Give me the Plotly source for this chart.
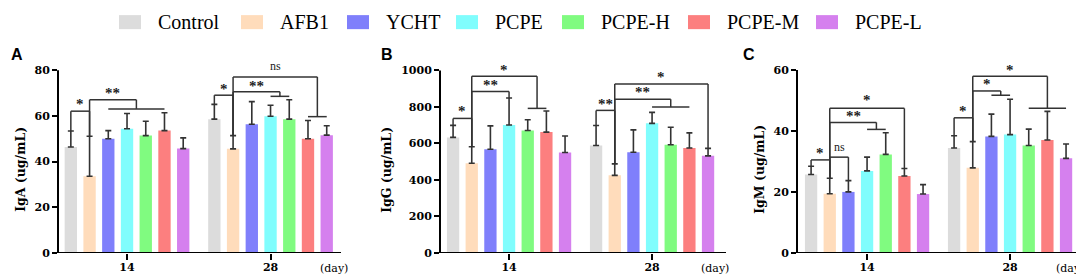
import plotly.graph_objects as go

W, H = 1084, 276

groups = ["14", "28"]
series = ["Control", "AFB1", "YCHT", "PCPE", "PCPE-H", "PCPE-M", "PCPE-L"]
colors = ["#dcdcdc", "#ffdcbb", "#7f7ffb", "#80fdfd", "#80fb80", "#fc7f7f", "#d580ee"]

# ---- IgA (ug/mL) ----
iga_d14 = [46.4, 33.6, 50.0, 54.4, 51.4, 53.6, 45.7]
iga_d14_sd = [7.0, 17.5, 3.6, 6.7, 6.3, 7.8, 4.7]
iga_d28 = [58.6, 45.6, 56.4, 59.9, 58.6, 50.0, 51.6]
iga_d28_sd = [6.5, 5.8, 9.9, 4.8, 8.5, 8.0, 4.1]

# ---- IgG (ug/mL) ----
igg_d14 = [633, 491, 568, 701, 671, 662, 550]
igg_d14_sd = [66, 91, 128, 148, 59, 116, 91]
igg_d28 = [589, 425, 552, 710, 593, 575, 532]
igg_d28_sd = [109, 63, 122, 60, 96, 83, 41]

# ---- IgM (ug/mL) ----
igm_d14 = [25.7, 19.4, 20.0, 26.9, 32.3, 25.2, 19.3]
igm_d14_sd = [2.7, 5.1, 3.7, 4.5, 7.1, 2.5, 3.1]
igm_d28 = [34.4, 27.9, 38.2, 38.8, 35.2, 37.0, 31.0]
igm_d28_sd = [4.0, 8.6, 7.3, 11.6, 5.4, 9.4, 4.7]

iga_ticks = [0, 20, 40, 60, 80]
igg_ticks = [0, 200, 400, 600, 800, 1000]
igm_ticks = [0, 20, 40, 60]

# significance brackets: (group, left bar, right bar or (first, last, level), level, label, label level)
iga_sig = [
    (0, 0, 1, 62.1, "*", 66.9),
    (0, 1, (2, 5, 63.1), 67.1, "**", 71.9),
    (1, 0, 1, 69.1, "*", 73.7),
    (1, 1, (3, 4, 68.6), 70.6, "**", 75.1),
    (1, 1, (5, 6, 59.7), 77.1, "ns", 81.9),
]
igg_sig = [
    (0, 0, 1, 737, "*", 797),
    (0, 1, 3, 884, "**", 943),
    (0, 1, (4, 5, 792), 968, "*", 1023),
    (1, 0, 1, 781, "**", 840),
    (1, 1, (3, 5, 799), 842, "**", 902),
    (1, 1, 6, 925, "*", 984),
]
igm_sig = [
    (0, 0, 1, 30.5, "*", 34.1),
    (0, 1, 2, 31.4, "ns", 34.8),
    (0, 1, (3, 4, 40.5), 42.8, "**", 46.2),
    (0, 1, 5, 47.4, "*", 51.3),
    (1, 0, 1, 44.3, "*", 48.0),
    (1, 1, (2, 3, 51.7), 53.1, "*", 56.6),
    (1, 1, (4, 6, 47.4), 57.9, "*", 61.4),
]

PITCH = 0.1305
BARW = 0.086
SERIF = "Liberation Serif, Times New Roman, serif"
WIDE = "DejaVu Serif, serif"
LINEC = "#333333"

panels = [
    dict(means=(iga_d14, iga_d28), sds=(iga_d14_sd, iga_d28_sd), ticks=iga_ticks, sig=iga_sig,
         title="IgA (ug/mL)", letter="A", xpx=(50, 333), xr=(-0.481, 1.491), ytop=107.3,
         title_x=13, letter_x=9, day_x=326),
    dict(means=(igg_d14, igg_d28), sds=(igg_d14_sd, igg_d28_sd), ticks=igg_ticks, sig=igg_sig,
         title="IgG (ug/mL)", letter="B", xpx=(432, 718), xr=(-0.483, 1.517), ytop=1342,
         title_x=379, letter_x=379, day_x=707),
    dict(means=(igm_d14, igm_d28), sds=(igm_d14_sd, igm_d28_sd), ticks=igm_ticks, sig=igm_sig,
         title="IgM (ug/mL)", letter="C", xpx=(789, 1075), xr=(-0.490, 1.510), ytop=80.3,
         title_x=752, letter_x=741, day_x=1062),
]

def px_x(p):
    return p / W

def px_y(p):
    return 1 - p / H

Y0 = px_y(251.3)

fig = go.Figure()
shapes = []
annotations = []
layout_axes = {}

def xpos(g, i):
    return g + (i - 3) * PITCH

for k, pn in enumerate(panels):
    sfx = "" if k == 0 else str(k + 1)
    xa, ya = "x" + sfx, "y" + sfx
    for i, name in enumerate(series):
        fig.add_trace(go.Bar(
            x=[xpos(0, i), xpos(1, i)],
            y=[pn["means"][0][i], pn["means"][1][i]],
            width=BARW,
            name=name,
            marker=dict(color=colors[i], line=dict(width=0)),
            error_y=dict(type="data", symmetric=False,
                         array=[pn["sds"][0][i], pn["sds"][1][i]],
                         arrayminus=[0, 0], color=LINEC, thickness=1.6, width=3),
            xaxis=xa, yaxis=ya, showlegend=False,
        ))
    tops = [[m + s for m, s in zip(pn["means"][g], pn["sds"][g])] for g in range(2)]
    layout_axes["xaxis" + sfx] = dict(
        domain=[px_x(pn["xpx"][0]), px_x(pn["xpx"][1])], range=list(pn["xr"]),
        tickvals=[0, 1], ticktext=groups, ticks="outside", ticklen=6, tickwidth=2,
        tickcolor="black", showgrid=False, zeroline=False, showline=False,
        tickfont=dict(family=WIDE, size=11, color="black", weight="bold"),
        ticklabelstandoff=-2,
        anchor=ya, fixedrange=True)
    layout_axes["yaxis" + sfx] = dict(
        domain=[Y0, 1], range=[0, pn["ytop"]], tickvals=pn["ticks"], ticks="outside",
        ticklen=5, tickwidth=2, tickcolor="black", showgrid=False, zeroline=False,
        showline=False, tickfont=dict(family=WIDE, size=11, color="black", weight="bold"),
        anchor=xa, fixedrange=True)
    # axis lines
    shapes.append(dict(type="line", xref=xa + " domain", yref=ya, x0=0, x1=0,
                       y0=0, y1=pn["ticks"][-1], line=dict(color="black", width=2)))
    shapes.append(dict(type="line", xref=xa + " domain", yref=ya, x0=0, x1=1,
                       y0=0, y1=0, line=dict(color="black", width=2)))
    # brackets
    for (g, left, right, lvl, label, lab_y) in pn["sig"]:
        xl = xpos(g, left)
        if isinstance(right, tuple):
            c1, c2, lvl2 = right
            xr = (xpos(g, c1) + xpos(g, c2)) / 2
            shapes.append(dict(type="line", xref=xa, yref=ya, x0=xpos(g, c1), x1=xpos(g, c2),
                               y0=lvl2, y1=lvl2, line=dict(color=LINEC, width=1.5)))
            yr_end = lvl2
        else:
            xr = xpos(g, right)
            yr_end = tops[g][right]
        shapes.append(dict(type="line", xref=xa, yref=ya, x0=xl, x1=xr, y0=lvl, y1=lvl,
                           line=dict(color=LINEC, width=1.5)))
        shapes.append(dict(type="line", xref=xa, yref=ya, x0=xl, x1=xl, y0=lvl,
                           y1=tops[g][left], line=dict(color=LINEC, width=1.5)))
        shapes.append(dict(type="line", xref=xa, yref=ya, x0=xr, x1=xr, y0=lvl,
                           y1=yr_end, line=dict(color=LINEC, width=1.5)))
        if label == "ns":
            font = dict(family=SERIF, size=12, color="#222")
            ys = 0
        else:
            font = dict(family=SERIF, size=15, color="#222", weight="bold")
            ys = -4
        annotations.append(dict(x=(xl + xr) / 2, y=lab_y, xref=xa, yref=ya, text=label,
                                showarrow=False, font=font, xanchor="center",
                                yanchor="middle", yshift=ys))
    # titles and labels
    annotations.append(dict(x=px_x(pn["title_x"]), y=px_y(166), xref="paper", yref="paper",
                            text=pn["title"], textangle=-90, showarrow=False,
                            font=dict(family=WIDE, size=12.5, color="black", weight="bold"),
                            xanchor="center", yanchor="middle"))
    annotations.append(dict(x=px_x(pn["letter_x"]), y=px_y(47.5), xref="paper", yref="paper",
                            text=pn["letter"], showarrow=False,
                            font=dict(family="Liberation Sans, Arial, sans-serif", size=16,
                                      color="black", weight="bold"),
                            xanchor="center", yanchor="middle"))
    annotations.append(dict(x=px_x(pn["day_x"]), y=px_y(267), xref="paper", yref="paper",
                            text="(day)", showarrow=False, borderpad=0,
                            font=dict(family=WIDE, size=11, color="black"),
                            xanchor="center", yanchor="middle"))

# manual legend
leg_swatch_x = [111, 233, 339, 448, 554, 680, 808]
for i, name in enumerate(series):
    x0 = leg_swatch_x[i]
    shapes.append(dict(type="rect", xref="paper", yref="paper", x0=px_x(x0), x1=px_x(x0 + 22),
                       y0=px_y(21.7), y1=px_y(7.3), fillcolor=colors[i],
                       line=dict(width=0)))
    annotations.append(dict(x=px_x(x0 + 37), y=px_y(14.5), xref="paper", yref="paper",
                            text=name, showarrow=False, xanchor="left", yanchor="middle",
                            font=dict(family=SERIF, size=20, color="black")))

fig.update_layout(
    width=W, height=H, margin=dict(l=0, r=0, t=0, b=0),
    paper_bgcolor="white", plot_bgcolor="rgba(0,0,0,0)",
    barmode="overlay", showlegend=False,
    shapes=shapes, annotations=annotations, **layout_axes,
)

fig.write_html("out.html")
